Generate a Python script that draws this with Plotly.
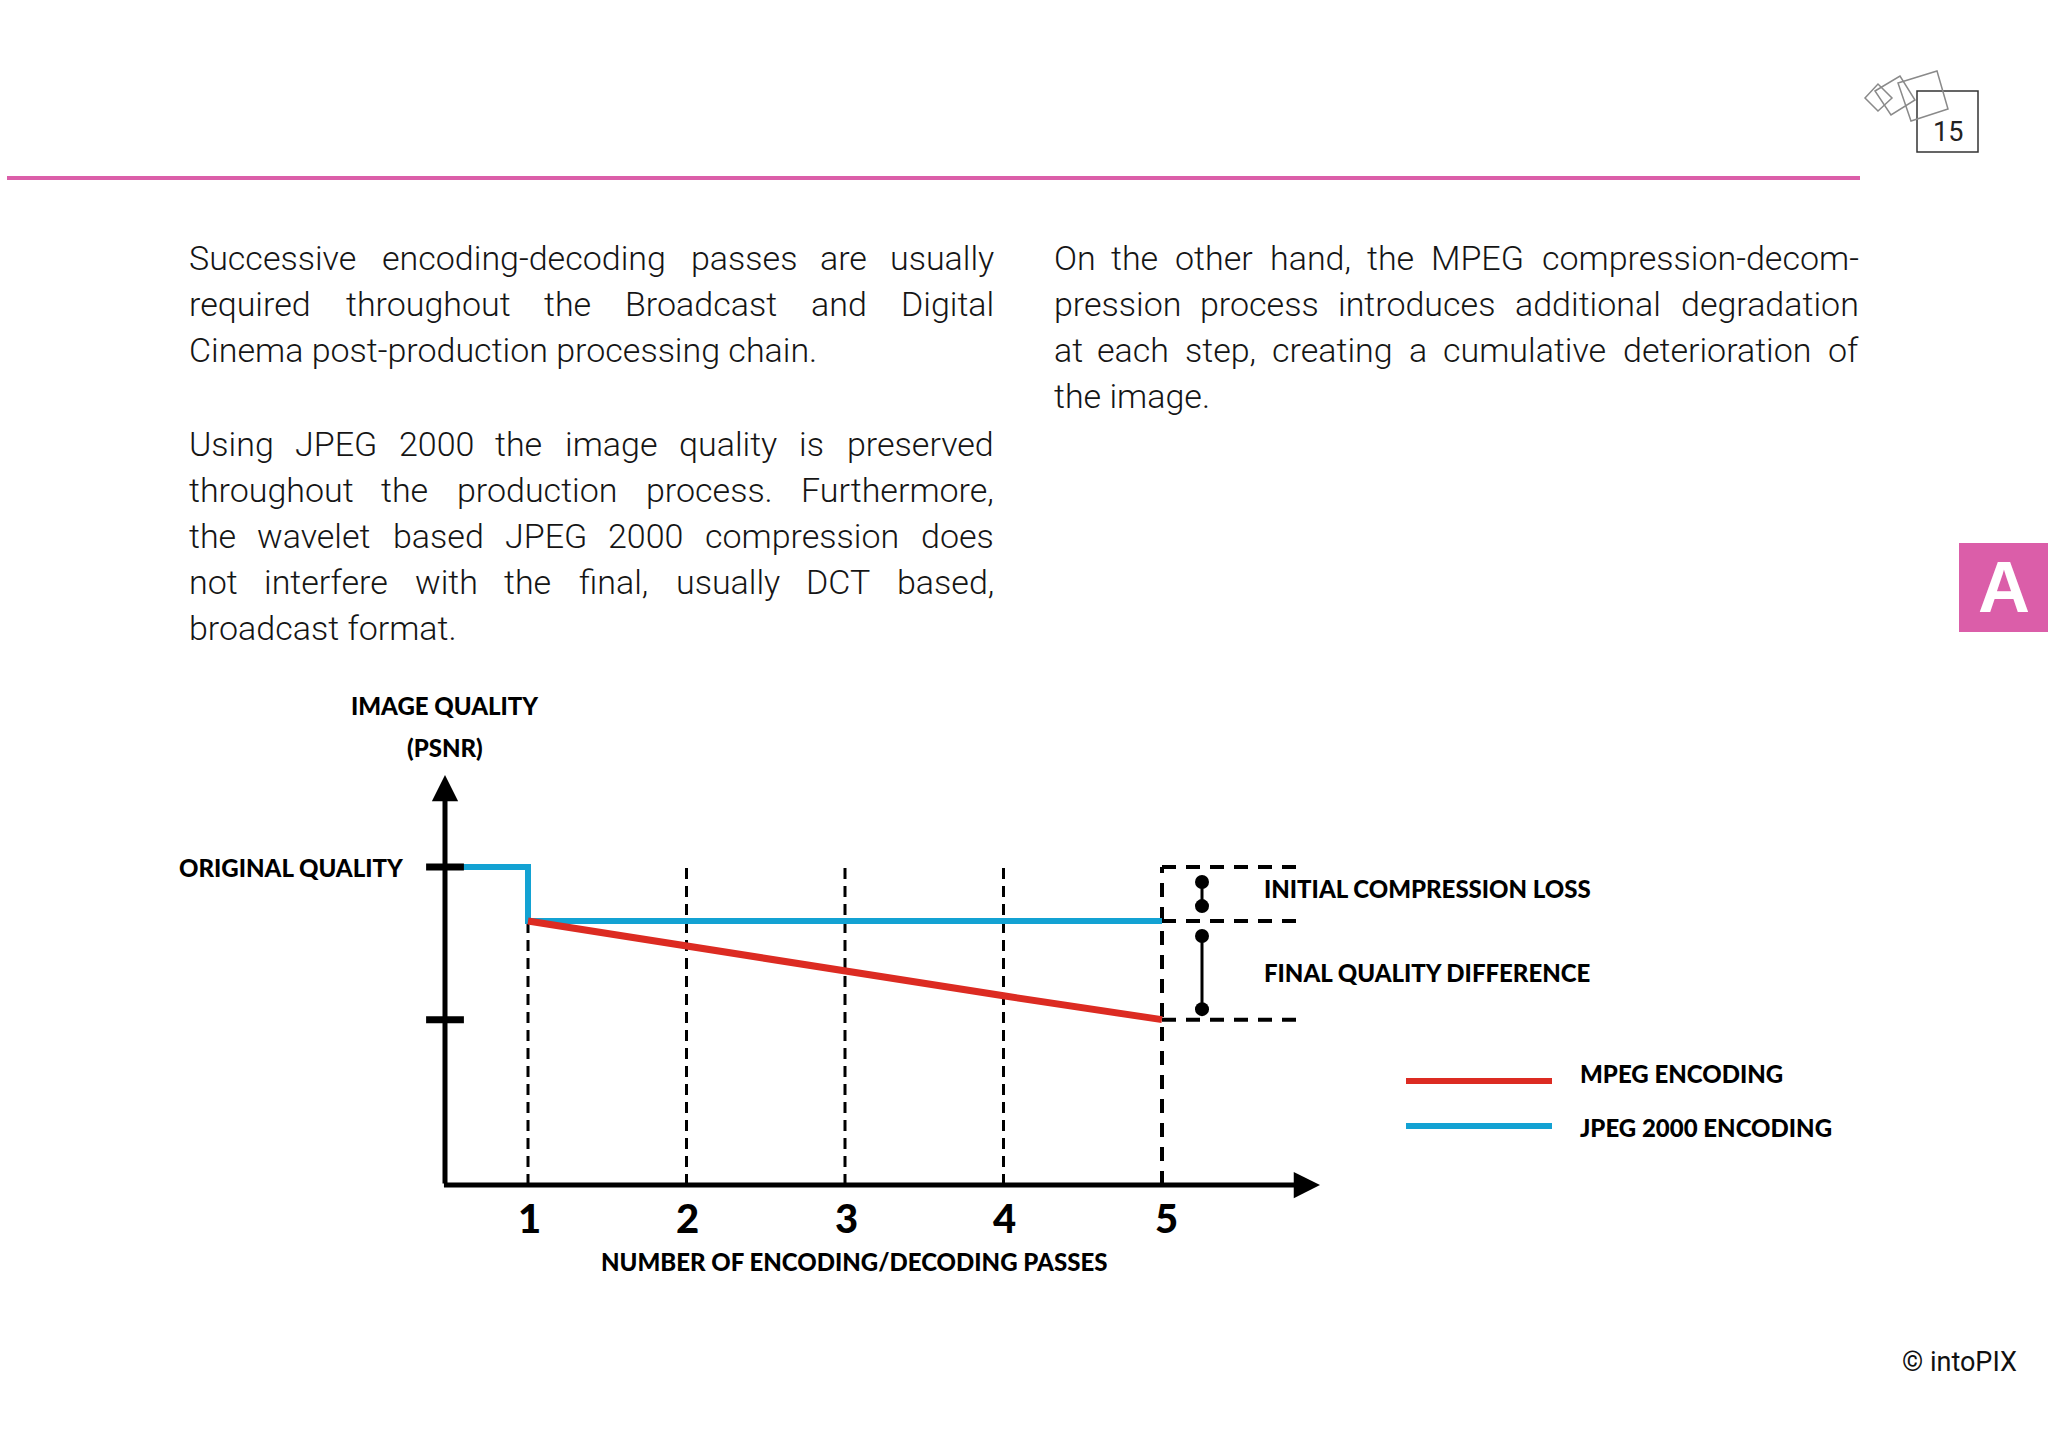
import plotly.graph_objects as go

W, H = 2048, 1434

# ---------------- data ----------------
passes = [1, 2, 3, 4, 5]
pass_labels = ["1", "2", "3", "4", "5"]
original_quality = 10.0
jpeg2000_quality = [8.3, 8.3, 8.3, 8.3, 8.3]
mpeg_quality = [8.3, 7.5, 6.7, 5.95, 5.2]
series_names = ["MPEG ENCODING", "JPEG 2000 ENCODING"]
initial_loss_span = [9.53, 8.77]
final_difference_span = [7.83, 5.53]
y_axis_title = ["IMAGE QUALITY", "(PSNR)"]
x_axis_title = "NUMBER OF ENCODING/DECODING PASSES"
original_label = "ORIGINAL QUALITY"
bracket_labels = ["INITIAL COMPRESSION LOSS", "FINAL QUALITY DIFFERENCE"]

left_paragraphs = [
    ["Successive encoding-decoding passes are usually",
     "required throughout the Broadcast and Digital",
     "Cinema post-production processing chain."],
    ["Using JPEG 2000 the image quality is preserved",
     "throughout the production process. Furthermore,",
     "the wavelet based JPEG 2000 compression does",
     "not interfere with the final, usually DCT based,",
     "broadcast format."],
]
right_paragraphs = [
    ["On the other hand, the MPEG compression-decom-",
     "pression process introduces additional degradation",
     "at each step, creating a cumulative deterioration of",
     "the image."],
]
page_number = "15"
section_tab = "A"
copyright_text = "© intoPIX"

# ---------------- style ----------------
C_BLUE = "#13A2D3"
C_RED = "#DC2B22"
C_PINK = "#DB5EA9"
C_TEXT = "#151515"
HEAVY = "Lato, Roboto, sans-serif"
BODYF = "Roboto, Lato, sans-serif"


def dx(px):
    return 1 + (px - 528) / 158.5


def dy(py):
    return (1185 - py) / 31.8


def fx(px):
    return px / W


def fy(py):
    return 1 - py / H


fig = go.Figure()
x_axis0 = dx(445)
last = passes[-1]
box_end = dx(1300)

# dashed guides at each pass
gx, gy = [], []
gx += [passes[0], passes[0], None]
gy += [0, jpeg2000_quality[0], None]
for p in passes[1:-1]:
    gx += [p, p, None]
    gy += [0, original_quality, None]
fig.add_trace(go.Scatter(x=gx, y=gy, mode="lines",
                         line=dict(color="black", width=3, dash="11px,7px"),
                         hoverinfo="skip", showlegend=False))

# dashed comparison box
bx = [last, last, None, last, box_end, None, last, box_end, None, last, box_end]
by = [0, original_quality, None,
      original_quality, original_quality, None,
      jpeg2000_quality[-1], jpeg2000_quality[-1], None,
      mpeg_quality[-1], mpeg_quality[-1]]
fig.add_trace(go.Scatter(x=bx, y=by, mode="lines",
                         line=dict(color="black", width=4, dash="14px,10px"),
                         hoverinfo="skip", showlegend=False))

# JPEG 2000 series
fig.add_trace(go.Scatter(x=[x_axis0, passes[0]] + passes,
                         y=[original_quality, original_quality] + jpeg2000_quality,
                         mode="lines", line=dict(color=C_BLUE, width=6),
                         name=series_names[1], showlegend=False))
# MPEG series
fig.add_trace(go.Scatter(x=passes, y=mpeg_quality, mode="lines",
                         line=dict(color=C_RED, width=7),
                         name=series_names[0], showlegend=False))

# dumbbell brackets
for span in (initial_loss_span, final_difference_span):
    fig.add_trace(go.Scatter(x=[dx(1202), dx(1202)], y=span, mode="lines+markers",
                             line=dict(color="black", width=3),
                             marker=dict(color="black", size=14),
                             hoverinfo="skip", showlegend=False))

# y-axis cross ticks
fig.add_trace(go.Scatter(x=[x_axis0, x_axis0], y=[original_quality, mpeg_quality[-1]],
                         mode="markers",
                         marker=dict(symbol="line-ew", size=27,
                                     line=dict(color="black", width=7)),
                         hoverinfo="skip", showlegend=False))

# legend lines
for col, py in ((C_RED, 1081), (C_BLUE, 1126)):
    fig.add_trace(go.Scatter(x=[dx(1406), dx(1552)], y=[dy(py), dy(py)], mode="lines",
                             line=dict(color=col, width=6),
                             hoverinfo="skip", showlegend=False))

ann = []
# axes with arrowheads
ann.append(dict(x=x_axis0, y=dy(775), ax=x_axis0, ay=0, xref="x", yref="y",
                axref="x", ayref="y", text="", showarrow=True, arrowhead=2,
                arrowsize=1.05, arrowwidth=5, arrowcolor="black", standoff=0))
ann.append(dict(x=dx(1320), y=0, ax=x_axis0 - 0.016, ay=0, xref="x", yref="y",
                axref="x", ayref="y", text="", showarrow=True, arrowhead=2,
                arrowsize=1.05, arrowwidth=5, arrowcolor="black", standoff=0))

LBL = dict(family=HEAVY, size=24, color="black", weight=900)


def label(x, y, text, xref="x", yref="y", xanchor="center", font=LBL, **kw):
    ann.append(dict(x=x, y=y, xref=xref, yref=yref, text=text, showarrow=False,
                    xanchor=xanchor, yanchor="middle", font=font, borderpad=0, **kw))


# tick labels
for p, t in zip(passes, pass_labels):
    label(p, 0, t, yshift=-33, xshift=4 if p == last else 1,
          font=dict(family=HEAVY, size=40, color="black", weight=900))
label(fx(854), fy(1261), x_axis_title, xref="paper", yref="paper")
label(x_axis0, dy(705), y_axis_title[0])
label(x_axis0, dy(747), y_axis_title[1])
label(fx(405), original_quality, original_label, xref="paper", xanchor="right")
label(dx(1263), dy(888), bracket_labels[0], xanchor="left")
label(dx(1263), dy(972), bracket_labels[1], xanchor="left")
label(dx(1579), dy(1073), series_names[0], xanchor="left")
label(dx(1579), dy(1127), series_names[1], xanchor="left")

# ---------------- body text (justified) ----------------
_low = [543, 561, 523, 564, 530, 347, 561, 551, 243, 239, 507, 243, 876, 552, 570,
        561, 568, 339, 516, 327, 551, 484, 751, 496, 473, 496]
_up = [653, 622, 652, 657, 568, 553, 682, 714, 272, 552, 628, 539, 873, 714, 688,
       632, 688, 616, 593, 597, 649, 637, 887, 627, 601, 599]
CW = {c: w for c, w in zip("abcdefghijklmnopqrstuvwxyz", _low)}
CW.update({c: w for c, w in zip("ABCDEFGHIJKLMNOPQRSTUVWXYZ", _up)})
CW.update({" ": 248, ",": 196, ".": 263, "-": 276})
BODY_SIZE = 34


def tw(s, size=BODY_SIZE):
    return sum(CW.get(c, 561) for c in s) / 1000 * size


BODY = dict(family=BODYF, size=BODY_SIZE, color=C_TEXT, weight=300)


def place_column(paragraphs, left, right, line_ys):
    k = 0
    for para in paragraphs:
        for j, line in enumerate(para):
            y = fy(line_ys[k])
            k += 1
            words = line.split()
            if j == len(para) - 1 or len(words) < 2:
                label(fx(left), y, line, xref="paper", yref="paper", xanchor="left",
                      font=BODY)
                continue
            widths = [tw(w) for w in words]
            gap = (right - left - sum(widths)) / (len(words) - 1)
            pos = left
            for n, (w, wd) in enumerate(zip(words, widths)):
                if n == 0:
                    xa, xp = "left", pos
                elif n == len(words) - 1:
                    xa, xp = "right", right
                else:
                    xa, xp = "center", pos + wd / 2
                label(fx(xp), y, w, xref="paper", yref="paper", xanchor=xa, font=BODY)
                pos += wd + gap


place_column(left_paragraphs, 188, 995, [258, 304, 350, 444, 490, 536, 582, 628])
place_column(right_paragraphs, 1053, 1860, [258, 304, 350, 396])

# page furniture
label(fx(1948), fy(132), page_number, xref="paper", yref="paper",
      font=dict(family=BODYF, size=27, color="#222"))
label(fx(2004), fy(587), section_tab, xref="paper", yref="paper",
      font=dict(family="Liberation Sans, Arial, sans-serif", size=72, color="white",
                weight="bold"))
label(fx(2018), fy(1362), copyright_text, xref="paper", yref="paper", xanchor="right",
      font=dict(family=BODYF, size=27, color="#111"))

shapes = [
    dict(type="line", xref="paper", yref="paper", x0=fx(7), x1=fx(1860), y0=fy(178),
         y1=fy(178), line=dict(color=C_PINK, width=4)),
    dict(type="rect", xref="paper", yref="paper", x0=fx(1959), x1=fx(2048), y0=fy(543),
         y1=fy(632), fillcolor=C_PINK, line=dict(width=0)),
    dict(type="rect", xref="paper", yref="paper", x0=fx(1917), x1=fx(1978), y0=fy(91),
         y1=fy(152), line=dict(color="#333", width=1.5)),
]


def poly(pts):
    return "M " + " L ".join(f"{fx(a):.5f},{fy(b):.5f}" for a, b in pts) + " Z"


for pts in ([(1865, 98), (1878, 84), (1892, 98), (1878, 111)],
            [(1875, 91), (1900, 76), (1915, 100), (1891, 115)],
            [(1898, 83), (1937, 71), (1948, 109), (1911, 121)]):
    shapes.append(dict(type="path", xref="paper", yref="paper", path=poly(pts),
                       line=dict(color="#8a8a8a", width=1.5)))

fig.update_layout(
    width=W, height=H, margin=dict(l=0, r=0, t=0, b=0),
    paper_bgcolor="white", plot_bgcolor="white",
    xaxis=dict(range=[dx(0), dx(W)], visible=False, fixedrange=True),
    yaxis=dict(range=[dy(H), dy(0)], visible=False, fixedrange=True),
    annotations=ann, shapes=shapes, showlegend=False,
)

fig.write_html("out.html", config={"displayModeBar": False},
               post_script="document.body.style.margin='0px';"
                           "document.body.style.overflow='hidden';")
